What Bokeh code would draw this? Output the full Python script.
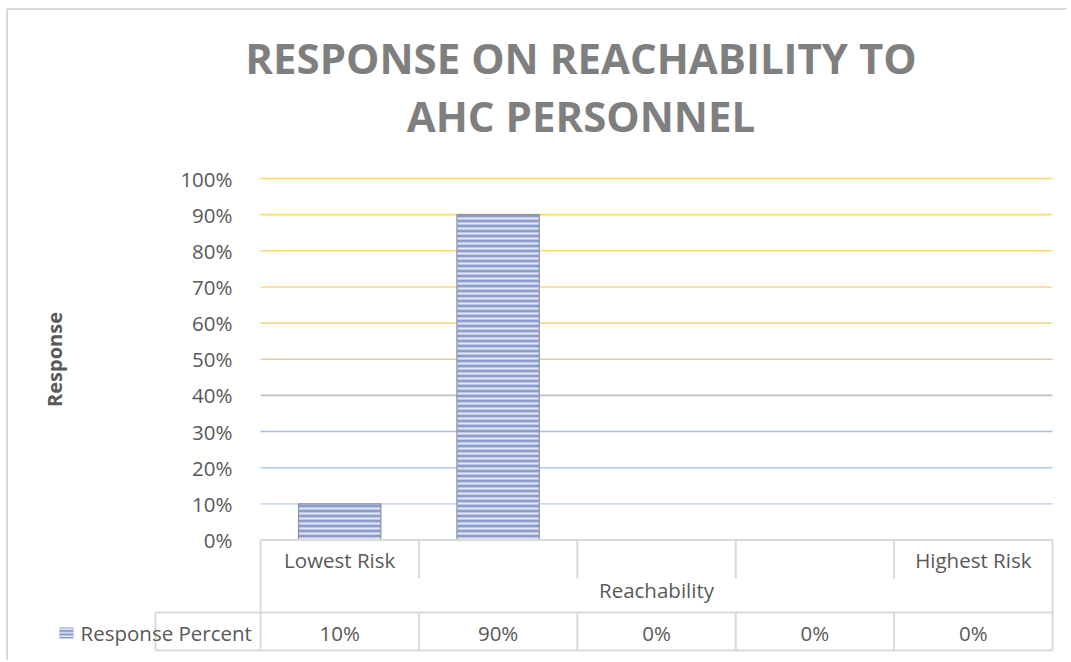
import numpy as np
from bokeh.plotting import figure
from bokeh.models import LinearAxis, FixedTicker, NumeralTickFormatter, Range1d
from bokeh.core.properties import value
from bokeh.embed import file_html
from bokeh.resources import INLINE

# ---------------- data ----------------
title_lines = ["RESPONSE ON REACHABILITY TO", "AHC PERSONNEL"]
categories = ["Lowest Risk", "", "", "", "Highest Risk"]
series_name = "Response Percent"
values = [0.10, 0.90, 0.0, 0.0, 0.0]
y_ticks = [0.0, 0.1, 0.2, 0.3, 0.4, 0.5, 0.6, 0.7, 0.8, 0.9, 1.0]
x_title = "Reachability"
y_title = "Response"

# ---------------- styles ----------------
grid_colors = ["#cbdaf2", "#b4c8ea", "#a9bde2", "#bfc5c5", "#dccfa6",
               "#f6d98a", "#fbd96e", "#fdd968", "#ffd966", "#ffd966"]
TXT = "#595959"
BORDER = "#d9d9d9"
BAR_FILL = "#8d9dcb"
BAR_HATCH = "#dfe5f3"
BAR_EDGE = "#8b93ab"
FONT = "Open Sans"

W, H = 1066, 660
PAGE = 0
# page-pixel layout of the plot area
PX0, COLW = 260.0, 158.4   # left edge of the categories, width of one category
PY0, PYH = 539.5, 361.5    # y of 0 %, pixel height of 100 %


def X(px):
    return (px - PX0) / COLW


def Y(py):
    return (PY0 - py) / PYH


ncat = len(categories)
centers = [i + 0.5 for i in range(ncat)]

x0, x1 = X(PAGE), X(PAGE + W)
y0, y1 = Y(PAGE + H), Y(PAGE)

p = figure(width=W, height=H, output_backend="svg", toolbar_location=None,
           x_axis_type=None, y_axis_type=None,
           x_range=Range1d(x0, x1), y_range=Range1d(y0, y1),
           min_border=0, min_border_left=0, min_border_right=0,
           min_border_top=0, min_border_bottom=0)
p.title.visible = False
p.outline_line_color = None
p.background_fill_color = "white"
p.border_fill_color = "white"

# ---------------- gridlines ----------------
grid_vals = y_ticks[1:]
p.segment(x0=[0] * len(grid_vals), x1=[ncat] * len(grid_vals),
          y0=grid_vals, y1=grid_vals, line_color=grid_colors, line_width=1.6)

# ---------------- bars ----------------
p.vbar(x=centers, top=values, bottom=0, width=0.52,
       fill_color=BAR_FILL, line_color=BAR_EDGE, line_width=1.2,
       line_alpha=[1.0 if v > 0 else 0.0 for v in values],
       hatch_pattern="horizontal_line", hatch_color=BAR_HATCH,
       hatch_scale=5, hatch_weight=2.2)

# ---------------- data table ----------------
xl = X(155)
yh = Y(578)
yt = Y(612)
yb = Y(650)
hx0 = [0, xl, xl]
hx1 = [ncat, ncat, ncat]
hy = [0, yt, yb]
vx, vy0, vy1 = [], [], []
for i in range(ncat + 1):
    if i in (0, ncat):
        vx.append(i); vy0.append(0); vy1.append(yb)
    else:
        vx += [i, i]; vy0 += [0, yt]; vy1 += [yh, yb]
vx.append(xl); vy0.append(yt); vy1.append(yb)
p.segment(x0=hx0 + vx, x1=hx1 + vx, y0=hy + vy0, y1=hy + vy1,
          line_color=BORDER, line_width=2)

p.text(x=centers, y=[Y(632)] * ncat, text=[f"{v:.0%}" for v in values],
       text_font=value(FONT), text_font_size=value("20.5px"),
       text_color=TXT, text_align="center", text_baseline="alphabetic")
p.text(x=[X(80)], y=[Y(632)], text=[series_name],
       text_font=value(FONT), text_font_size=value("20.5px"),
       text_color=TXT, text_align="left", text_baseline="alphabetic")
p.quad(left=[X(59)], right=[X(73)], bottom=[Y(638)], top=[Y(627)],
       fill_color=BAR_FILL, line_color=None,
       hatch_pattern="horizontal_line", hatch_color=BAR_HATCH,
       hatch_scale=3.5, hatch_weight=1.5)

# ---------------- title ----------------
p.text(x=[X(580.5)] * 2, y=[Y(57), Y(115)], text=title_lines,
       text_font=value(FONT), text_font_style="bold",
       text_font_size=value("42px"), text_color="#7f7f7f",
       text_align="center", text_baseline="alphabetic")

# ---------------- outer chart border (left / top) ----------------
bx, by = X(6.5), Y(8.5)
p.segment(x0=[bx, bx], x1=[bx, x1], y0=[y0, by], y1=[by, by],
          line_color=BORDER, line_width=2)

# ---------------- axes ----------------
yax = LinearAxis(fixed_location=0, bounds=(0, 1),
                 ticker=FixedTicker(ticks=y_ticks),
                 formatter=NumeralTickFormatter(format="0%"),
                 axis_line_color=None, major_tick_line_color=None,
                 minor_tick_line_color=None,
                 major_label_text_font=FONT, major_label_text_font_size="20.5px",
                 major_label_text_color=TXT, major_label_standoff=22,
                 axis_label=y_title, axis_label_text_font=FONT,
                 axis_label_text_font_style="bold",
                 axis_label_text_font_size="20px",
                 axis_label_text_color=TXT, axis_label_standoff=109)
p.add_layout(yax, "left")

xax = LinearAxis(fixed_location=0, bounds=(0, ncat),
                 ticker=FixedTicker(ticks=centers),
                 major_label_overrides={c: lab for c, lab in zip(centers, categories)},
                 axis_line_color=None, major_tick_line_color=None,
                 minor_tick_line_color=None,
                 major_label_text_font=FONT, major_label_text_font_size="20.5px",
                 major_label_text_color=TXT, major_label_standoff=0,
                 axis_label=x_title, axis_label_text_font=FONT,
                 axis_label_text_font_style="normal",
                 axis_label_text_font_size="20.5px",
                 axis_label_text_color=TXT, axis_label_standoff=-2)
p.add_layout(xax, "below")

open("out.html", "w").write(file_html(p, INLINE))
